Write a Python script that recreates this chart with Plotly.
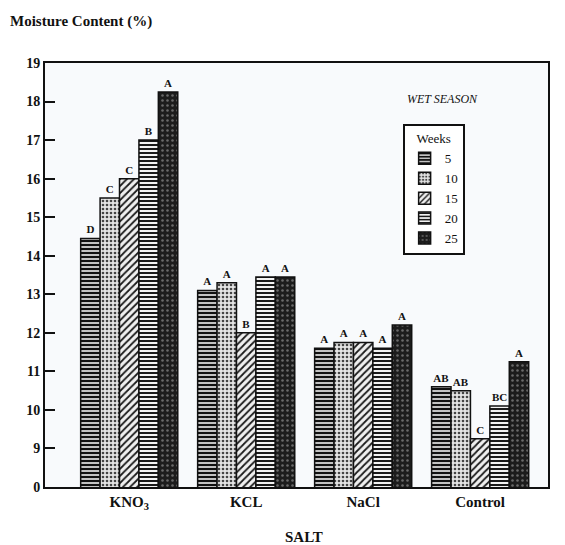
import plotly.graph_objects as go

salts = ["KNO<sub>3</sub>", "KCL", "NaCl", "Control"]
salt_labels = ["<b>KNO<sub>3</sub></b>", "<b>KCL</b>", "<b>NaCl</b>", "<b>Control</b>"]
weeks = ["5", "10", "15", "20", "25"]
values = {
    "5":  [14.45, 13.1, 11.6, 10.6],
    "10": [15.5, 13.3, 11.75, 10.5],
    "15": [16.0, 12.0, 11.75, 9.25],
    "20": [17.0, 13.45, 11.6, 10.1],
    "25": [18.25, 13.45, 12.2, 11.25],
}
letters = {
    "5":  ["D", "A", "A", "AB"],
    "10": ["C", "A", "A", "AB"],
    "15": ["C", "B", "A", "C"],
    "20": ["B", "A", "A", "BC"],
    "25": ["A", "A", "A", "A"],
}
tick_vals = [8, 9, 10, 11, 12, 13, 14, 15, 16, 17, 18, 19]
tick_text = ["0", "9", "10", "11", "12", "13", "14", "15", "16", "17", "18", "19"]

styles = {
    "5":  dict(shape="-", fgcolor="#111111", bgcolor="#eeeeee", size=4, solidity=0.6),
    "10": dict(shape=".", fgcolor="#444444", bgcolor="#e4e4e4", size=4, solidity=0.35),
    "15": dict(shape="/", fgcolor="#1a1a1a", bgcolor="#f0f0f0", size=5, solidity=0.35),
    "20": dict(shape="-", fgcolor="#1a1a1a", bgcolor="#f2f2f2", size=4, solidity=0.5),
    "25": dict(shape=".", fgcolor="#6a6a6a", bgcolor="#1c1c1c", size=5, solidity=0.2),
}

serif = "Liberation Serif, Times New Roman, serif"
fig = go.Figure()
for w in weeks:
    fig.add_trace(go.Bar(
        x=salts, y=values[w], name=w,
        text=["<b>%s</b>" % t for t in letters[w]], textposition="outside", cliponaxis=False,
        textfont=dict(family=serif, size=11, color="#111"),
        marker=dict(color="#f2f2f2", line=dict(color="#111", width=1.5),
                    pattern=dict(fillmode="replace", **styles[w])),
    ))

fig.update_layout(
    width=565, height=545,
    margin=dict(l=45, r=17, t=63, b=58),
    barmode="group", bargap=0.17, bargroupgap=0,
    paper_bgcolor="white", plot_bgcolor="#f8fafc",
    font=dict(family=serif, color="#111"),
    showlegend=True,
    legend=dict(
        title=dict(text="Weeks", font=dict(family=serif, size=13), side="top center"),
        x=0.711, y=0.855, xanchor="left", yanchor="top",
        bgcolor="white", bordercolor="#111", borderwidth=2,
        font=dict(family=serif, size=13), itemwidth=30, tracegroupgap=0,
    ),
    annotations=[
        dict(text="<b>Moisture Content (%)</b>", x=0, y=1, xref="paper", yref="paper",
             xanchor="left", yanchor="top", xshift=-37, yshift=52, showarrow=False,
             font=dict(family=serif, size=15)),
        dict(text="<i>WET SEASON</i>", x=0.715, y=0.915, xref="paper", yref="paper",
             xanchor="left", yanchor="middle", showarrow=False,
             font=dict(family=serif, size=12)),
        dict(text="<b>SALT</b>", x=0.515, y=0, xref="paper", yref="paper",
             xanchor="center", yanchor="top", yshift=-40, showarrow=False,
             font=dict(family=serif, size=15)),
    ],
)
fig.update_yaxes(range=[8, 19], tickvals=tick_vals, ticktext=["<b>%s</b>" % t for t in tick_text],
                 ticks="inside", ticklen=10, tickwidth=2, tickcolor="#111",
                 showgrid=False, zeroline=False, showline=True, linecolor="#111",
                 linewidth=2, mirror=True,
                 tickfont=dict(family=serif, size=14, color="#111"))
fig.update_xaxes(range=[-0.72, 3.58], showgrid=False, showline=True,
                 linecolor="#111", linewidth=2, mirror=True, ticks="",
                 tickvals=salts, ticktext=salt_labels,
                 tickfont=dict(family=serif, size=15, color="#111"))
fig.write_html("out.html")
